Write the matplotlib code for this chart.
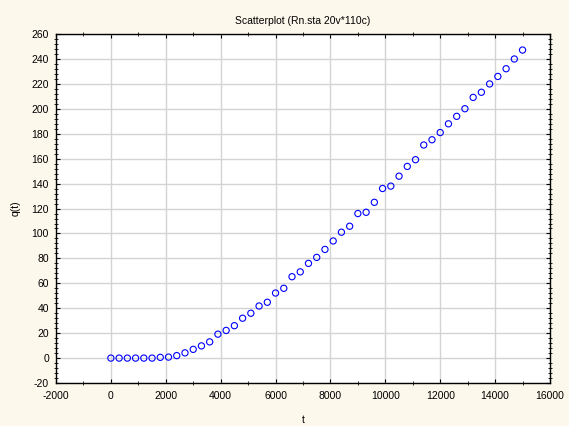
import matplotlib.pyplot as plt
import numpy as np
from matplotlib.ticker import MultipleLocator

t = [0, 300, 600, 900, 1200, 1500, 1800, 2100, 2400, 2700,
     3000, 3300, 3600, 3900, 4200, 4500, 4800, 5100, 5400, 5700,
     6000, 6300, 6600, 6900, 7200, 7500, 7800, 8100, 8400, 8700,
     9000, 9300, 9600, 9900, 10200, 10500, 10800, 11100, 11400, 11700,
     12000, 12300, 12600, 12900, 13200, 13500, 13800, 14100, 14400, 14700,
     15000]
q = [0, 0, 0, 0, 0, 0, 0.6, 0.8, 2, 4.2,
     7, 9.8, 13, 19.2, 22.2, 26, 32, 36, 41.8, 44.8,
     52.2, 56, 65.3, 69.2, 76, 80.8, 87.2, 94, 101, 105.8,
     116, 117, 125, 136.1, 138, 146, 153.8, 159.2, 171, 175.2,
     181, 188, 194, 200.1, 209.2, 213.3, 220, 226, 232.2, 240,
     247.2]

title = "Scatterplot (Rn.sta 20v*110c)"
xlabel = "t"
ylabel = "q(t)"

plt.rcParams['font.family'] = ['Liberation Sans', 'DejaVu Sans']
plt.rcParams['axes.unicode_minus'] = False
bg = '#fdf8ec'

fig = plt.figure(figsize=(5.69, 4.26), dpi=100, facecolor=bg)
ax = fig.add_axes([0.0984, 0.1009, 0.8682, 0.8191])

ax.scatter(np.array(t), np.array(q), s=20, facecolors='none', edgecolors='#0000ff',
           linewidths=0.8, zorder=3)

ax.set_xlim(-2000, 16000)
ax.set_ylim(-20, 260)
ax.xaxis.set_major_locator(MultipleLocator(2000))
ax.xaxis.set_minor_locator(MultipleLocator(1000))
ax.yaxis.set_major_locator(MultipleLocator(20))
ax.yaxis.set_minor_locator(MultipleLocator(4))

ax.grid(True, which='major', color='#d4d4d4', linewidth=1.0, zorder=0)
ax.tick_params(which='major', direction='in', length=3, width=0.8,
               top=True, right=True, labelsize=7.5)
ax.tick_params(axis='x', which='major', pad=6)
ax.tick_params(axis='y', which='major', pad=5)
ax.tick_params(which='minor', direction='inout', length=3, width=0.6,
               top=True, right=True)
for s in ax.spines.values():
    s.set_linewidth(1.0)

ax.set_title(title, fontsize=7.5, pad=7)
ax.set_xlabel(xlabel, fontsize=7.5, labelpad=10)
ax.set_ylabel(ylabel, fontsize=7.5, labelpad=8)

fig.savefig('out.png', dpi=100, facecolor=bg)
